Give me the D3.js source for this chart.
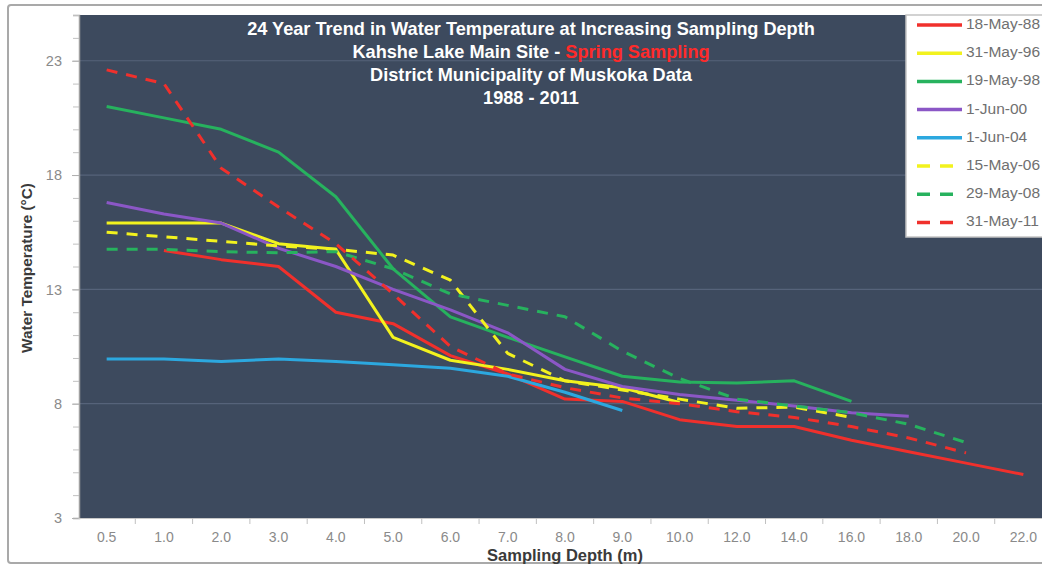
<!DOCTYPE html>
<html>
<head>
<meta charset="utf-8">
<script src="https://cdn.jsdelivr.net/npm/d3@7"></script>
<style>
  html, body { margin: 0; padding: 0; background: #fff; }
  svg { display: block; font-family: "Liberation Sans", Arial, sans-serif; }
</style>
</head>
<body>
<svg id="chart" width="1042" height="568"></svg>
<script>
// ---------- DATA ----------
const depths = ["0.5","1.0","2.0","3.0","4.0","5.0","6.0","7.0","8.0","9.0","10.0","12.0","14.0","16.0","18.0","20.0","22.0"];
const yTicks = [3, 8, 13, 18, 23];

const may88 = [null, 14.7, 14.3, 14.0, 12.0, 11.5, 10.1, 9.3, 8.2, 8.1, 7.3, 7.0, 7.0, 6.4, 5.9, 5.4, 4.9];
const may96 = [15.9, 15.9, 15.9, 15.0, 14.75, 10.9, 9.9, 9.5, 9.0, 8.7, 8.05, null, null, null, null, null, null];
const may98 = [21.0, 20.5, 20.0, 19.0, 17.05, 13.9, 11.8, 10.9, 10.05, 9.2, 8.95, 8.9, 9.0, 8.1, null, null, null];
const jun00 = [16.8, 16.3, 15.9, 14.8, 14.0, 13.0, 12.1, 11.1, 9.5, 8.75, 8.4, 8.15, 7.9, 7.6, 7.45, null, null];
const jun04 = [9.95, 9.95, 9.85, 9.95, 9.85, 9.7, 9.55, 9.2, 8.5, 7.7, null, null, null, null, null, null, null];
const may06 = [15.5, 15.3, 15.1, 14.9, 14.75, 14.5, 13.4, 10.2, 9.0, 8.6, 8.2, 7.8, 7.85, 7.4, null, null, null];
const may08 = [14.75, 14.75, 14.65, 14.6, 14.65, 13.9, 12.8, 12.3, 11.8, 10.3, 9.1, 8.2, 7.9, 7.6, 7.1, 6.3, null];
const may11 = [22.6, 22.0, 18.3, 16.6, 15.0, 12.8, 10.5, 9.3, 8.7, 8.25, 8.0, 7.65, 7.4, 7.0, 6.5, 5.85, null];

const seriesNames = ["18-May-88","31-May-96","19-May-98","1-Jun-00","1-Jun-04","15-May-06","29-May-08","31-May-11"];
const seriesValues = [may88, may96, may98, jun00, jun04, may06, may08, may11];
const seriesColors = ["#F0302C","#F2F21E","#27B25E","#8B57C6","#2CA8DF","#F2F21E","#27B25E","#F0302C"];
const seriesDashed = [false, false, false, false, false, true, true, true];

const titleLines = ["24 Year Trend in Water Temperature at Increasing Sampling Depth",
                    "Kahshe Lake Main Site - ", "Spring Sampling",
                    "District Municipality of Muskoka Data", "1988 - 2011"];
const xTitle = "Sampling Depth (m)";
const yTitle = "Water Temperature (°C)";

// ---------- LAYOUT ----------
const W = 1042, H = 568;
const plot = { left: 79, top: 15, right: 1052, bottom: 518 };
const svg = d3.select("#chart");

svg.append("rect").attr("x", 0).attr("y", 0).attr("width", W).attr("height", H).attr("fill", "#fff");
svg.append("rect").attr("x", 8).attr("y", 5).attr("width", 1070).attr("height", 558)
   .attr("fill", "#fff").attr("stroke", "#a9a9a9").attr("stroke-width", 2).attr("rx", 3);

const x = d3.scaleBand().domain(depths).range([plot.left - 1, plot.right]).paddingInner(0).paddingOuter(0);
const cx = d => x(d) + x.bandwidth() / 2;
const y = d3.scaleLinear().domain([3, 25]).range([plot.bottom, plot.top]);

// plot background
svg.append("rect").attr("x", plot.left).attr("y", plot.top)
   .attr("width", plot.right - plot.left).attr("height", plot.bottom - plot.top)
   .attr("fill", "#3D4A5E");

// gridlines
svg.append("g").selectAll("line").data(yTicks.slice(1)).join("line")
   .attr("x1", plot.left).attr("x2", plot.right)
   .attr("y1", d => y(d)).attr("y2", d => y(d))
   .attr("stroke", "#56637A").attr("stroke-width", 1.2);

// Y axis minor ticks
const yMinor = svg.append("g").attr("transform", `translate(${plot.left},0)`)
   .call(d3.axisLeft(y).tickValues(d3.range(3, 26)).tickSize(6).tickFormat(""));
yMinor.select(".domain").attr("stroke", "#a0a0a0").attr("stroke-width", 1.5);
yMinor.selectAll(".tick line").attr("stroke", "#c0c0c0");

// Y axis major
const yAxis = svg.append("g").attr("transform", `translate(${plot.left},0)`)
   .call(d3.axisLeft(y).tickValues(yTicks).tickSize(7).tickPadding(10));
yAxis.select(".domain").remove();
yAxis.selectAll(".tick line").attr("stroke", "#b0b0b0");
yAxis.selectAll(".tick text").attr("fill", "#8a8a8a").attr("font-size", 14.5)
   .attr("font-family", "Liberation Sans, Arial, sans-serif");

// X axis labels
const xAxis = svg.append("g").attr("transform", `translate(0,${plot.bottom})`)
   .call(d3.axisBottom(x).tickSize(0).tickPadding(14));
xAxis.select(".domain").attr("stroke", "#c8c8c8");
xAxis.selectAll(".tick text").attr("fill", "#8a8a8a").attr("font-size", 14)
   .attr("font-family", "Liberation Sans, Arial, sans-serif");
// X axis tick marks at category boundaries
svg.append("g").selectAll("line").data(depths.slice(1)).join("line")
   .attr("x1", d => x(d)).attr("x2", d => x(d))
   .attr("y1", plot.bottom).attr("y2", plot.bottom + 6)
   .attr("stroke", "#c0c0c0");

// Lines
const line = d3.line().defined(d => d.v != null).x(d => cx(d.k)).y(d => y(d.v));
seriesValues.forEach((vals, i) => {
  const pts = depths.map((k, j) => ({ k, v: vals[j] }));
  svg.append("path").datum(pts)
     .attr("d", line)
     .attr("fill", "none")
     .attr("stroke", seriesColors[i])
     .attr("stroke-width", 3)
     .attr("stroke-linejoin", "round")
     .attr("stroke-dasharray", seriesDashed[i] ? "11,9" : null);
});

// Title
function fitText(sel, targetW) {
  const w = sel.node().getComputedTextLength();
  const fs = parseFloat(sel.attr("font-size"));
  sel.attr("font-size", fs * targetW / w);
}
const tcx = 531;
const t1 = svg.append("text").attr("x", tcx).attr("y", 30).attr("text-anchor", "middle")
   .attr("dominant-baseline", "middle").attr("font-weight", "bold").attr("font-size", 16)
   .attr("fill", "#ffffff").text(titleLines[0]);
fitText(t1, 568);
const tfs = parseFloat(t1.attr("font-size"));
const t2 = svg.append("text").attr("x", tcx).attr("y", 53).attr("text-anchor", "middle")
   .attr("dominant-baseline", "middle").attr("font-weight", "bold").attr("font-size", tfs).attr("fill", "#ffffff");
t2.append("tspan").text(titleLines[1]);
t2.append("tspan").attr("fill", "#FF2A2A").text(titleLines[2]);
svg.append("text").attr("x", tcx).attr("y", 76).attr("text-anchor", "middle")
   .attr("dominant-baseline", "middle").attr("font-weight", "bold").attr("font-size", tfs)
   .attr("fill", "#ffffff").text(titleLines[3]);
svg.append("text").attr("x", tcx).attr("y", 99).attr("text-anchor", "middle")
   .attr("dominant-baseline", "middle").attr("font-weight", "bold").attr("font-size", tfs)
   .attr("fill", "#ffffff").text(titleLines[4]);

// Axis titles
const xt = svg.append("text").attr("x", 565).attr("y", 557).attr("text-anchor", "middle")
   .attr("dominant-baseline", "middle").attr("font-weight", "bold").attr("font-size", 15)
   .attr("fill", "#3a3a3a").text(xTitle);
fitText(xt, 156);
const yt = svg.append("text").attr("transform", "translate(28,268) rotate(-90)")
   .attr("text-anchor", "middle").attr("dominant-baseline", "middle")
   .attr("font-weight", "bold").attr("font-size", 14).attr("fill", "#3a3a3a").text(yTitle);
fitText(yt, 170);

// Legend
const lg = svg.append("g");
lg.append("rect").attr("x", 906).attr("y", 15).attr("width", 160).attr("height", 222)
  .attr("fill", "#ffffff").attr("stroke", "#c4c4c4").attr("stroke-width", 1.5);
seriesNames.forEach((name, i) => {
  const ly = 25 + i * 28.2;
  lg.append("line").attr("x1", 917).attr("x2", 962).attr("y1", ly).attr("y2", ly)
    .attr("stroke", seriesColors[i]).attr("stroke-width", 3.5)
    .attr("stroke-dasharray", seriesDashed[i] ? "13,10" : null);
  lg.append("text").attr("x", 966).attr("y", ly).attr("dominant-baseline", "middle")
    .attr("font-size", 15.5).attr("fill", "#707070").text(name);
});
</script>
</body>
</html>
